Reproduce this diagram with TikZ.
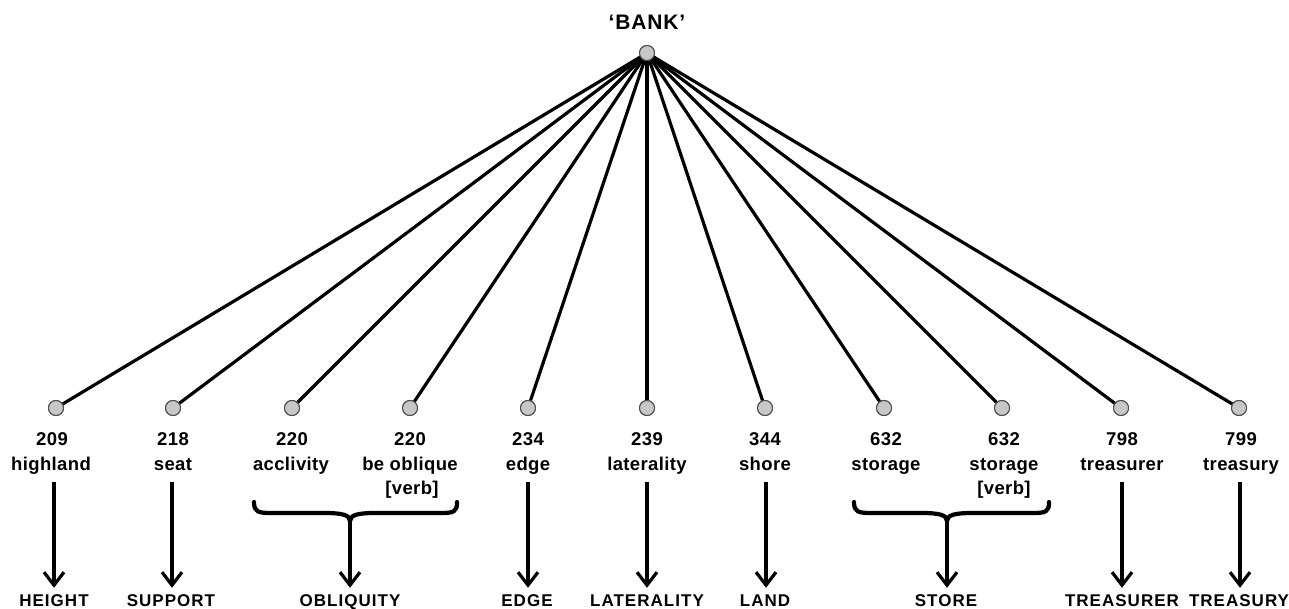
\documentclass[tikz,border=0pt]{standalone}
\usepackage{fontspec}
\setmainfont{Liberation Sans}
\usetikzlibrary{arrows.meta}
\begin{document}
\begin{tikzpicture}[x=1pt,y=-1pt,
  dot/.style={circle,draw=black!70,fill=black!22,line width=1pt,minimum size=15pt,inner sep=0pt},
  spoke/.style={line width=3.2pt,black},
  num/.style={anchor=base,inner sep=0pt,font=\fontsize{18.5}{20}\selectfont\bfseries\addfontfeatures{LetterSpace=2}},
  head/.style={anchor=base,inner sep=0pt,text height=12pt,font=\fontsize{17}{18}\selectfont\bfseries\addfontfeatures{LetterSpace=6}},
  arr/.style={line width=3.2pt,black,-{Straight Barb[length=13pt,width=20pt,line width=3.2pt]},shorten >=6pt},
  brace/.style={line width=4.2pt,black,line cap=round}]
\useasboundingbox (0,0) rectangle (1289,609);
\node[anchor=base,inner sep=0pt,font=\fontsize{21}{22}\selectfont\bfseries\addfontfeatures{LetterSpace=4}] (bank) at (647,30) {‘BANK’};
\node[dot] (top) at (647,53) {};
% bottom dots
\node[dot] (c1) at (56,408) {};
\node[dot] (c2) at (173,408) {};
\node[dot] (c3) at (292,408) {};
\node[dot] (c4) at (410,408) {};
\node[dot] (c5) at (528,408) {};
\node[dot] (c6) at (647,408) {};
\node[dot] (c7) at (765,408) {};
\node[dot] (c8) at (884,408) {};
\node[dot] (c9) at (1002,408) {};
\node[dot] (c10) at (1121,408) {};
\node[dot] (c11) at (1239,408) {};
\foreach \i in {1,...,11} {\draw[spoke] (top) -- (c\i);}
\node[dot] at (top) {};
\foreach \i in {1,...,11} {\node[dot] at (c\i) {};}
% numbers and words
\node[num] (n1) at (52,445) {209};   \node[num] (w1) at (51,470) {highland};
\node[num] (n2) at (173,445) {218};  \node[num] (w2) at (173,470) {seat};
\node[num] (n3) at (292,445) {220};  \node[num] (w3) at (291,470) {acclivity};
\node[num] (n4) at (410,445) {220};  \node[num] (w4) at (410,470) {be oblique};
\node[num] (v4) at (412,494) {[verb]};
\node[num] (n5) at (528,445) {234};  \node[num] (w5) at (528,470) {edge};
\node[num] (n6) at (647,445) {239};  \node[num] (w6) at (647,470) {laterality};
\node[num] (n7) at (765,445) {344};  \node[num] (w7) at (765,470) {shore};
\node[num] (n8) at (886,445) {632};  \node[num] (w8) at (886,470) {storage};
\node[num] (n9) at (1004,445) {632}; \node[num] (w9) at (1004,470) {storage};
\node[num] (v9) at (1004,494) {[verb]};
\node[num] (n10) at (1122,445) {798}; \node[num] (w10) at (1122,470) {treasurer};
\node[num] (n11) at (1241,445) {799}; \node[num] (w11) at (1241,470) {treasury};
% bottom headings
\node[head] (h1) at (54,606) {HEIGHT};
\node[head] (h2) at (171,606) {SUPPORT};
\node[head] (h3) at (350,606) {OBLIQUITY};
\node[head] (h5) at (527,606) {EDGE};
\node[head] (h6) at (647,606) {LATERALITY};
\node[head] (h7) at (765,606) {LAND};
\node[head] (h8) at (946,606) {STORE};
\node[head] (h10) at (1122,606) {TREASURER};
\node[head] (h11) at (1239,606) {TREASURY};
% arrow starts
\coordinate (a1) at (54,482);
\coordinate (a2) at (172,482);
\coordinate (a5) at (528,482);
\coordinate (a6) at (647,482);
\coordinate (a7) at (766,482);
\coordinate (a10) at (1122,482);
\coordinate (a11) at (1240,482);
\coordinate (b3) at (350,521);
\coordinate (b8) at (947,521);
\draw[arr] (a1) -- (a1 |- h1.north);
\draw[arr] (a2) -- (a2 |- h2.north);
\draw[arr] (a5) -- (a5 |- h5.north);
\draw[arr] (a6) -- (a6 |- h6.north);
\draw[arr] (a7) -- (a7 |- h7.north);
\draw[arr] (a10) -- (a10 |- h10.north);
\draw[arr] (a11) -- (a11 |- h11.north);
\draw[arr] (b3) -- (b3 |- h3.north);
\draw[arr] (b8) -- (b8 |- h8.north);
% braces
\draw[brace] (254,502) .. controls (254,512) and (258,513) .. (272,513) -- (325,513)
  .. controls (342,513) and (350,515) .. (b3)
  .. controls (350,515) and (358,513) .. (375,513) -- (440,513)
  .. controls (454,513) and (457,512) .. (457,502);
\draw[brace] (854,502) .. controls (854,512) and (858,513) .. (872,513) -- (922,513)
  .. controls (939,513) and (947,515) .. (b8)
  .. controls (947,515) and (955,513) .. (972,513) -- (1032,513)
  .. controls (1046,513) and (1049,512) .. (1049,502);
\end{tikzpicture}
\end{document}
